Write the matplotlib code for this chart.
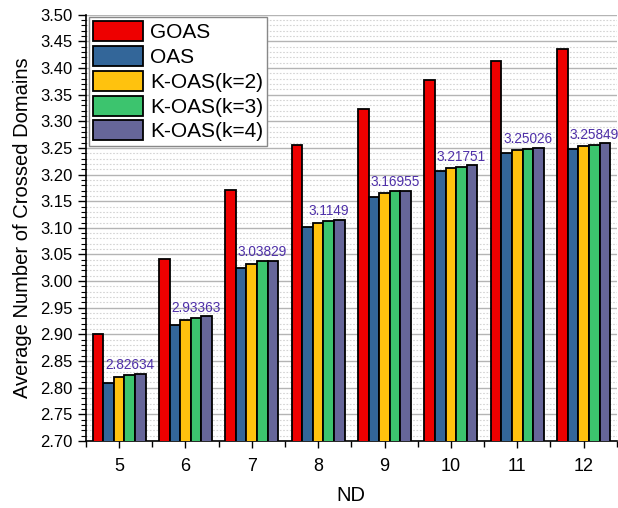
import numpy as np
import matplotlib
matplotlib.use("Agg")
import matplotlib.pyplot as plt
from matplotlib.ticker import MultipleLocator, FormatStrFormatter

plt.rcParams['font.family'] = ['Liberation Sans', 'DejaVu Sans']

nd = [5, 6, 7, 8, 9, 10, 11, 12]
goas = [2.901, 3.041, 3.171, 3.256, 3.323, 3.377, 3.414, 3.436]
oas = [2.808, 2.917, 3.024, 3.101, 3.158, 3.207, 3.240, 3.248]
koas2 = [2.820, 2.927, 3.032, 3.109, 3.165, 3.212, 3.246, 3.254]
koas3 = [2.824, 2.931, 3.037, 3.112, 3.169, 3.215, 3.248, 3.256]
koas4 = [2.82634, 2.93363, 3.03829, 3.1149, 3.16955, 3.21751, 3.25026, 3.25849]
koas4_labels = ["2.82634", "2.93363", "3.03829", "3.1149", "3.16955", "3.21751", "3.25026", "3.25849"]

names = ["GOAS", "OAS", "K-OAS(k=2)", "K-OAS(k=3)", "K-OAS(k=4)"]
colors = ["#ee0000", "#336699", "#ffc20e", "#3cc46e", "#666699"]
series = [goas, oas, koas2, koas3, koas4]

fig = plt.figure(figsize=(6.18, 5.08), dpi=100)
ax = fig.add_axes([0.139, 0.132, 0.859, 0.839])

w = 0.16
x = np.array(nd, dtype=float)
for i, (vals, c, n) in enumerate(zip(series, colors, names)):
    ax.bar(x + (i - 2) * w, vals, width=w, color=c, edgecolor="black",
           linewidth=1.3, label=n, zorder=3)

# value labels above the k=4 bars
for xi, v, t in zip(x, koas4, koas4_labels):
    ax.text(xi + 0.16, v + 0.003, t, ha="center", va="bottom",
            fontsize=9.8, color="#4e2fa8", zorder=4)

ax.set_xlim(4.5, 12.5)
ax.set_ylim(2.70, 3.50)
ax.set_xticks(nd)
ax.set_xticks(np.arange(4.5, 13, 1.0), minor=True)
ax.yaxis.set_major_locator(MultipleLocator(0.05))
ax.yaxis.set_minor_locator(MultipleLocator(0.01))
ax.yaxis.set_major_formatter(FormatStrFormatter("%.2f"))

ax.grid(axis="y", which="major", color="#b4b4b4", linewidth=1.0, zorder=0)
ax.grid(axis="y", which="minor", color="#d4d4d4", linewidth=0.8,
        linestyle=(0, (1.5, 1.5)), zorder=0)
ax.set_axisbelow(True)

for s in ["top", "right"]:
    ax.spines[s].set_visible(False)
for s in ["left", "bottom"]:
    ax.spines[s].set_linewidth(1.2)

ax.tick_params(axis="y", which="major", length=6, width=1, labelsize=12, direction="out")
ax.tick_params(axis="y", which="minor", length=3.5, width=0.8, direction="out")
ax.tick_params(axis="x", which="major", length=5, width=1, labelsize=13, pad=7, direction="out")
ax.tick_params(axis="x", which="minor", length=4, width=1, direction="out")

ax.set_xlabel("ND", fontsize=14.5, labelpad=8)
ax.set_ylabel("Average Number of Crossed Domains", fontsize=14.5, labelpad=6)

leg = ax.legend(loc="upper left", bbox_to_anchor=(0.005, 0.995), borderaxespad=0,
                fontsize=15, handlelength=2.4, handleheight=1.1, labelspacing=0.18,
                handletextpad=0.35, borderpad=0.2, fancybox=False, framealpha=1)
leg.get_frame().set_edgecolor("#888888")
leg.get_frame().set_linewidth(1.0)
leg.set_zorder(5)

fig.savefig("out.png", dpi=100)
